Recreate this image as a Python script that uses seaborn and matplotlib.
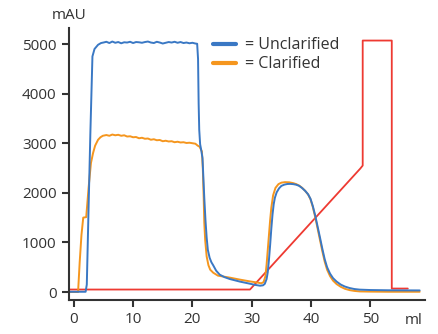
import numpy as np
import pandas as pd
import seaborn as sns
import matplotlib.pyplot as plt
from matplotlib.lines import Line2D

# Chromatogram traces (ml vs mAU)
unclarified_ml = [-0.8, 2.0, 2.2, 2.5, 2.8, 3.15, 3.5, 4.1, 4.6,
                  5.0, 5.5, 6.0, 6.5, 7.0, 7.5, 8.0, 8.5, 9.0, 9.5, 10.0, 10.5,
                  11.0, 11.5, 12.0, 12.5, 13.0, 13.5, 14.0, 14.5, 15.0, 15.5,
                  16.0, 16.5, 17.0, 17.5, 18.0, 18.5, 19.0, 19.5, 20.0, 20.5,
                  20.8, 20.95, 21.05, 21.15, 21.3, 21.5, 21.7, 21.85, 22.0, 22.2,
                  22.4, 22.6, 22.9, 23.2, 23.5, 24.0, 24.6, 25.4, 26.3, 28.0,
                  29.7, 30.5, 31.4, 31.9, 32.2, 32.5, 32.7, 32.9, 33.1, 33.3,
                  33.5, 33.7, 33.9, 34.2, 34.6, 35.0, 35.5, 36.0, 36.5, 37.0,
                  37.5, 38.0, 38.5, 39.0, 39.5, 39.9, 40.3, 40.7, 41.1, 41.5,
                  41.9, 42.3, 42.7, 43.2, 43.7, 44.3, 45.0, 45.7, 46.5, 47.3,
                  48.2, 50.0, 53.0, 56.0, 58.3]
unclarified_mau = [5, 5, 150, 1700, 3200, 4750, 4900, 4985, 5020,
                   5030, 5045, 5020, 5050, 5025, 5040, 5015, 5035, 5030, 5045, 5020, 5040,
                   5035, 5025, 5040, 5050, 5030, 5020, 5045, 5030, 5010, 5025,
                   5040, 5030, 5045, 5025, 5040, 5020, 5030, 5015, 5025, 5010,
                   5005, 4700, 3800, 3270, 2980, 2850, 2700, 2300, 1900, 1450,
                   1100, 850, 690, 600, 540, 430, 350, 300, 262, 210,
                   167, 145, 127, 135, 165, 260, 400, 650, 950, 1280,
                   1560, 1770, 1900, 2010, 2090, 2140, 2165, 2178, 2180, 2175,
                   2163, 2140, 2095, 2040, 1970, 1880, 1730, 1540, 1320, 1100,
                   870, 660, 500, 370, 280, 210, 150, 110, 80, 60,
                   48, 40, 35, 33, 32]

clarified_ml = [-0.8, 0.73, 1.0, 1.3, 1.6, 2.1, 2.5, 2.9, 3.25, 3.6, 4.1, 4.5, 4.9,
                5.5, 6.0, 6.5, 7.0, 7.5, 8.0, 8.5, 9.0, 9.5, 10.0, 10.5, 11.0,
                11.5, 12.0, 12.5, 13.0, 13.5, 14.0, 14.5, 15.0, 15.5, 16.0,
                16.5, 17.0, 17.5, 18.0, 18.5, 19.0, 19.5, 20.0, 20.5,
                20.9, 21.2, 21.6, 21.75, 21.9, 22.0, 22.15, 22.4, 22.7, 23.0,
                23.5, 24.3, 25.3, 26.3, 28.0, 29.7, 31.0, 31.6, 32.0, 32.3,
                32.5, 32.7, 32.9, 33.1, 33.3, 33.6, 34.0, 34.5, 35.0, 35.6,
                36.3, 37.0, 37.5, 38.0, 38.5, 39.0, 39.5, 39.9, 40.3, 40.7,
                41.1, 41.5, 41.9, 42.3, 42.7, 43.2, 43.7, 44.3, 45.0, 45.7,
                46.5, 47.3, 48.2, 50.0, 53.0, 56.0, 58.3]
clarified_mau = [0, 0, 600, 1150, 1500, 1510, 2100, 2600, 2800, 2950, 3070, 3120, 3150,
                 3165, 3150, 3175, 3160, 3170, 3150, 3160, 3135, 3140, 3120, 3125, 3100,
                 3110, 3090, 3095, 3070, 3080, 3060, 3065, 3040, 3050, 3035,
                 3040, 3020, 3030, 3015, 3020, 3005, 3010, 3000, 2990,
                 2950, 2930, 2835, 2500, 1900, 1400, 1050, 718, 540, 450,
                 390, 330, 310, 290, 250, 214, 190, 175, 200, 320,
                 550, 850, 1150, 1450, 1700, 1950, 2100, 2175, 2205, 2215,
                 2212, 2195, 2175, 2145, 2100, 2040, 1965, 1870, 1710, 1510,
                 1280, 1050, 820, 610, 450, 320, 230, 160, 105, 65,
                 38, 22, 12, 8, 5, 5, 5]

gradient_ml = [-0.8, 29.7, 48.3, 48.7, 48.7, 53.6, 53.6, 56.3]
gradient_mau = [50, 50, 2490, 2550, 5070, 5070, 70, 70]

blue = '#3a78c4'
orange = '#f5961e'
red = '#ee3a32'
ink = '#333333'

sns.set_style('ticks')
plt.rcParams['font.family'] = ['Open Sans', 'DejaVu Sans']

fig = plt.figure(figsize=(4.38, 3.34), dpi=100)
ax = fig.add_axes([69 / 438, 1 - 300 / 334, 356 / 438, 272 / 334])

sns.lineplot(x=gradient_ml, y=gradient_mau, sort=False, estimator=None,
             color=red, linewidth=1.3, ax=ax)
sns.lineplot(x=clarified_ml, y=clarified_mau, sort=False, estimator=None,
             color=orange, linewidth=1.4, ax=ax)
sns.lineplot(x=unclarified_ml, y=unclarified_mau, sort=False, estimator=None,
             color=blue, linewidth=1.4, ax=ax)

ax.set_xlim(-0.8, 59.2)
ax.set_ylim(-161, 5323)
ax.set_xticks([0, 10, 20, 30, 40, 50])
ax.set_yticks([0, 1000, 2000, 3000, 4000, 5000])

for side in ['top', 'right']:
    ax.spines[side].set_visible(False)
for side in ['left', 'bottom']:
    ax.spines[side].set_linewidth(1.5)
    ax.spines[side].set_color(ink)
ax.tick_params(axis='both', colors=ink, labelcolor=ink, labelsize=11,
               width=1.5, length=5)
ax.tick_params(axis='y', pad=4)
ax.tick_params(axis='x', pad=3.5)

ax.text(0, 1.02, 'mAU', transform=ax.transAxes, ha='center', va='bottom',
        fontsize=11, color=ink)
ax.text(0.969, -0.048, 'ml', transform=ax.transAxes, ha='center', va='top',
        fontsize=11, color=ink)

handles = [Line2D([], [], color=blue, linewidth=3),
           Line2D([], [], color=orange, linewidth=3)]
ax.legend(handles, ['= Unclarified', '= Clarified'], frameon=False,
          loc='upper left', bbox_to_anchor=(0.4045, 0.966), prop={'size': 11.5},
          handlelength=1.45, handletextpad=0.55, labelspacing=0.2,
          borderpad=0, borderaxespad=0, labelcolor=ink)

fig.savefig('out.png', dpi=100)
